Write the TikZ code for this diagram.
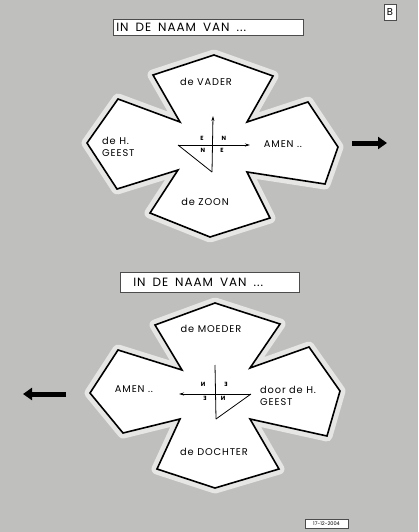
\documentclass[tikz,border=0pt]{standalone}
\usepackage{fontspec}
\setmainfont{Poppins}
\newfontfamily\titlefont[LetterSpace=8]{Poppins}
\newfontfamily\lblfont[LetterSpace=9]{Poppins}
\usetikzlibrary{arrows.meta}
\definecolor{bg}{RGB}{191,191,189}
\definecolor{halo}{RGB}{230,230,229}
\newcommand\wsp{\hspace{7pt}}
\tikzset{
  cross/.style={draw=black, line width=1.6pt, fill=white, line join=miter},
  crosshalo/.style={draw=halo, line width=11pt, fill=halo, line join=round},
  lbl/.style={font=\lblfont\fontsize{9.8}{11.5}\selectfont, inner sep=0pt, align=left},
  titlebox/.style={draw=black!70, fill=white, line width=0.5pt, inner sep=0pt, minimum height=16pt, font=\titlefont\fontsize{12}{12}\selectfont, anchor=north west},
  compass/.style={line width=0.8pt},
  letter/.style={font=\fontsize{6}{7}\selectfont\bfseries, inner sep=0pt},
  bigarrow/.style={line width=5pt, -{Triangle[width=12pt,length=9pt]}}
}
\begin{document}
\begin{tikzpicture}[x=1pt,y=-1pt]
\fill[bg] (0,0) rectangle (418,532);
\useasboundingbox (0,0) rectangle (418,532);

% B box
\node[draw=black!70, fill=white, line width=0.5pt, minimum width=12pt, minimum height=16pt, inner sep=0pt, font=\fontsize{10}{11}\selectfont] (B) at (390,12.5) {B};

% ---------- top figure ----------
\node[titlebox, minimum width=190pt, text width=186pt] (t1) at (113,19) {\hspace{1pt}IN\wsp DE\wsp NAAM\wsp VAN\wsp ...};

\coordinate (a1) at (214,55);
\coordinate (a2) at (273,76);
\coordinate (a3) at (247,122);
\coordinate (a4) at (308,102);
\coordinate (a5) at (338,147);
\coordinate (a6) at (325,184);
\coordinate (a7) at (247,172);
\coordinate (a8) at (270,218);
\coordinate (a9) at (210,237);
\coordinate (a10) at (150,213);
\coordinate (a11) at (178,170);
\coordinate (a12) at (117,189);
\coordinate (a13) at (87,143);
\coordinate (a14) at (118,99);
\coordinate (a15) at (180,122);
\coordinate (a16) at (153,75);
\path[crosshalo] (a1)--(a2)--(a3)--(a4)--(a5)--(a6)--(a7)--(a8)--(a9)--(a10)--(a11)--(a12)--(a13)--(a14)--(a15)--(a16)--cycle;
\path[cross] (a1)--(a2)--(a3)--(a4)--(a5)--(a6)--(a7)--(a8)--(a9)--(a10)--(a11)--(a12)--(a13)--(a14)--(a15)--(a16)--cycle;

\node[lbl] (v) at (206,82) {de VADER};
\node[lbl, anchor=west] (hg) at (102,147) {de H.\\GEEST};
\node[lbl] (am1) at (283,144) {AMEN ..};
\node[lbl] (z) at (205,202) {de ZOON};

\coordinate (c1t) at (213,116);
\coordinate (c1b) at (212,172);
\coordinate (c1l) at (178,145);
\coordinate (c1r) at (250,145);
\draw[compass, -{Stealth[length=5pt,width=3pt]}] (c1b) -- (c1t);
\draw[compass, -{Stealth[length=5pt,width=3pt]}] (c1l) -- (c1r);
\draw[compass] (c1l) -- (c1b);
\node[letter] (e1) at (202,138) {E};
\node[letter] (n1) at (224,138) {N};
\node[letter] (n2) at (203,150.5) {N};
\node[letter] (e2) at (222,150.5) {E};

\coordinate (r1s) at (352,143);
\coordinate (r1e) at (387,143);
\draw[bigarrow] (r1s) -- (r1e);

% ---------- bottom figure ----------
\node[titlebox, minimum width=179pt, text width=175pt, minimum height=20pt] (t2) at (120,272) {\hspace{11pt}IN\wsp DE\wsp NAAM\wsp VAN\wsp ...};

\coordinate (b1) at (215,303);
\coordinate (b2) at (280,324);
\coordinate (b3) at (250,368);
\coordinate (b4) at (309,347);
\coordinate (b5) at (340,391);
\coordinate (b6) at (327,436);
\coordinate (b7) at (250,419);
\coordinate (b8) at (279,469);
\coordinate (b9) at (215,488);
\coordinate (b10) at (157,469);
\coordinate (b11) at (180,419);
\coordinate (b12) at (123,433);
\coordinate (b13) at (90,393);
\coordinate (b14) at (118,350);
\coordinate (b15) at (182,370);
\coordinate (b16) at (155,325);
\path[crosshalo] (b1)--(b2)--(b3)--(b4)--(b5)--(b6)--(b7)--(b8)--(b9)--(b10)--(b11)--(b12)--(b13)--(b14)--(b15)--(b16)--cycle;
\path[cross] (b1)--(b2)--(b3)--(b4)--(b5)--(b6)--(b7)--(b8)--(b9)--(b10)--(b11)--(b12)--(b13)--(b14)--(b15)--(b16)--cycle;

\node[lbl] (m) at (211,329) {de MOEDER};
\node[lbl] (am2) at (134,389) {AMEN ..};
\node[lbl, anchor=west] (dh) at (260,396) {door de H.\\GEEST};
\node[lbl] (d) at (214,452) {de DOCHTER};

\coordinate (c2t) at (215,365);
\coordinate (c2b) at (216,419);
\coordinate (c2l) at (179,394);
\coordinate (c2r) at (251,394);
\draw[compass] (c2b) -- (c2t);
\draw[compass, -{Stealth[length=5pt,width=3pt]}] (c2r) -- (c2l);
\draw[compass] (c2r) -- (c2b);
\node[letter, xscale=-1] (n3) at (203,384) {N};
\node[letter, xscale=-1] (e3) at (226,384) {E};
\node[letter, xscale=-1] (e4) at (205,398) {E};
\node[letter, xscale=-1] (n4) at (223,398) {N};

\coordinate (l1s) at (66,394);
\coordinate (l1e) at (23,394);
\draw[bigarrow] (l1s) -- (l1e);

% date box
\node[draw=black!70, fill=white, line width=0.5pt, minimum width=43pt, minimum height=9pt, inner sep=0pt, font=\fontsize{5}{6}\selectfont] (date) at (326.5,523.5) {17-12-2004};
\end{tikzpicture}
\end{document}
